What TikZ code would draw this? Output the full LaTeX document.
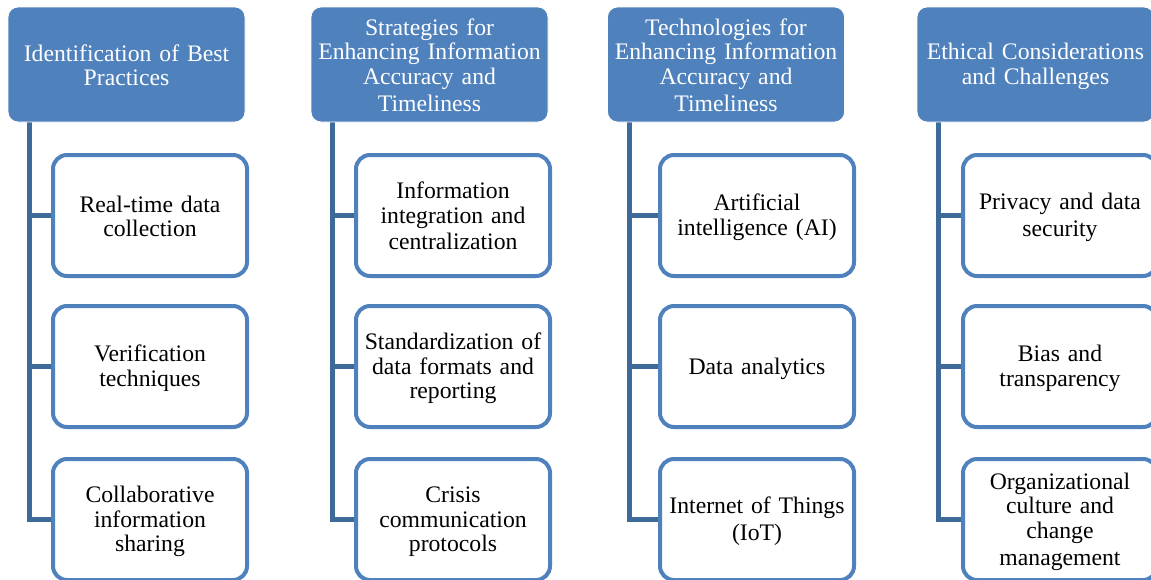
\documentclass[tikz,border=0pt]{standalone}
\usepackage{fontspec}
\setmainfont{Liberation Serif}
\usetikzlibrary{backgrounds}
\definecolor{hdrblue}{HTML}{4F81BD}
\definecolor{trunkblue}{HTML}{3E6A9A}

% line strut so that text blocks are centred on their line boxes
\newcommand{\lnstrut}{\rule[-3pt]{0pt}{23.5pt}}

\tikzset{
  txt/.style={font=\fontsize{23.7}{24.5}\selectfont, align=center, inner sep=0pt,
    execute at begin node=\lnstrut, execute at end node=\lnstrut},
  header/.style={txt, fill=hdrblue, draw=white, line width=0.8pt,
    rounded corners=10pt, minimum width=237pt, minimum height=115pt,
    text width=232pt, text=white},
  item/.style={txt, draw=hdrblue, fill=white, line width=4pt,
    rounded corners=14pt, minimum width=194pt, minimum height=121pt,
    text width=188pt, text=black},
  link/.style={draw=trunkblue, line width=5pt, line join=miter}
}

\begin{document}
\begin{tikzpicture}[x=1pt,y=-1pt]
\useasboundingbox (0,0) rectangle (1151,579);
\clip (0,0) rectangle (1151,579);

% column headers
\node[header] (h1) at (126.5,64.5) {Identification of Best\\Practices};
\node[header] (h2) at (429.5,64.5) {Strategies for\\Enhancing Information\\Accuracy and\\Timeliness};
\node[header] (h3) at (726,64.5) {Technologies for\\Enhancing Information\\Accuracy and\\Timeliness};
\node[header] (h4) at (1035.5,64.5) {Ethical Considerations\\and Challenges};

% column 1
\node[item] (c11) at (150,215.5) {Real-time data\\collection};
\node[item] (c12) at (150,366.5) {Verification\\techniques};
\node[item] (c13) at (150,519.5) {Collaborative\\information\\sharing};

% column 2
\node[item] (c21) at (453,215.5) {Information\\integration and\\centralization};
\node[item] (c22) at (453,366.5) {Standardization of\\data formats and\\reporting};
\node[item] (c23) at (453,519.5) {Crisis\\communication\\protocols};

% column 3
\node[item] (c31) at (757,215.5) {Artificial\\intelligence (AI)};
\node[item] (c32) at (757,366.5) {Data analytics};
\node[item] (c33) at (757,519.5) {Internet of Things\\(IoT)};

% column 4
\node[item] (c41) at (1060,215.5) {Privacy and data\\security};
\node[item] (c42) at (1060,366.5) {Bias and\\transparency};
\node[item] (c43) at (1060,519.5) {Organizational\\culture and\\change\\management};

% trunks and branches, behind the boxes
\begin{scope}[on background layer]
\fill[white] (0,0) rectangle (1151,579);
\foreach \c in {1,2,3,4}{
  \coordinate (r\c) at ([xshift=22pt]h\c.south west);
  \draw[link] (r\c) |- (c\c3.west);
  \draw[link] (r\c |- c\c1.west) -- (c\c1.west);
  \draw[link] (r\c |- c\c2.west) -- (c\c2.west);
}
\end{scope}
\end{tikzpicture}
\end{document}
